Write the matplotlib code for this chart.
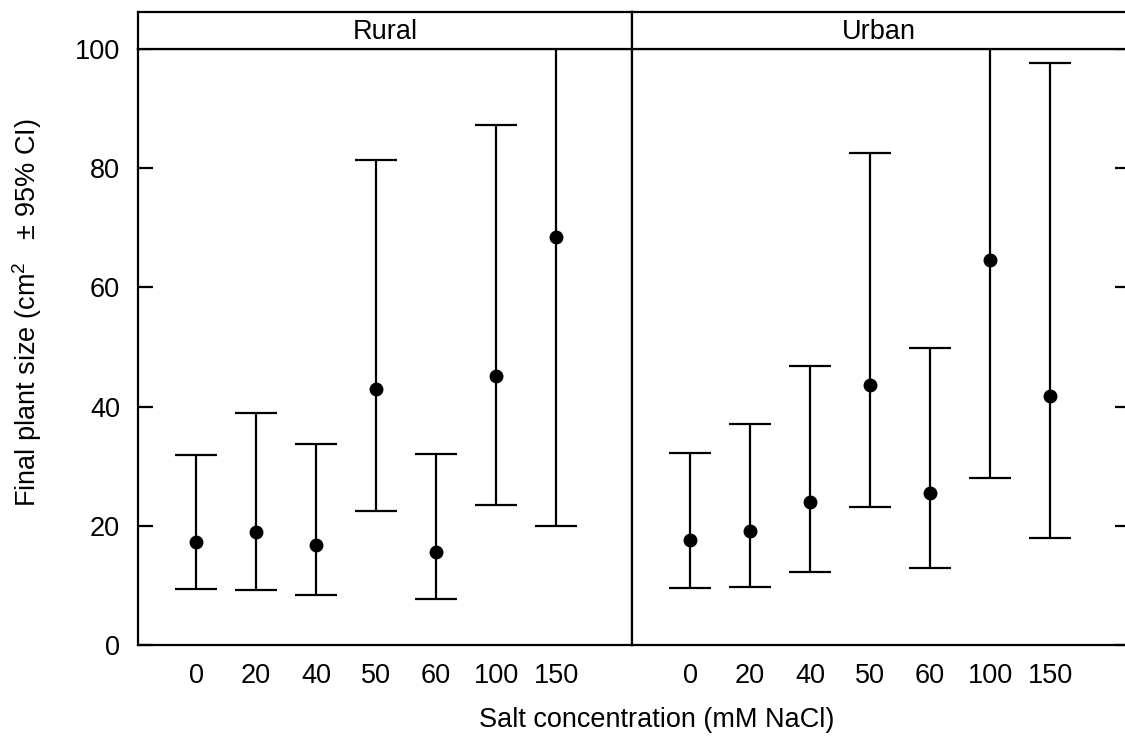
import matplotlib
matplotlib.use("Agg")
import matplotlib.pyplot as plt
import numpy as np

plt.rcParams['font.family'] = ['Liberation Sans', 'DejaVu Sans']
plt.rcParams['mathtext.fontset'] = 'custom'
plt.rcParams['mathtext.rm'] = 'Liberation Sans'
plt.rcParams['mathtext.it'] = 'Liberation Sans:italic'

salt_levels = ["0", "20", "40", "50", "60", "100", "150"]
panels = ["Rural", "Urban"]

rural_mean = [17.3, 19.0, 16.8, 42.9, 15.6, 45.2, 68.5]
rural_lower = [9.4, 9.2, 8.4, 22.5, 7.7, 23.5, 20.0]
rural_upper = [31.9, 39.0, 33.7, 81.3, 32.0, 87.2, 117.0]

urban_mean = [17.6, 19.1, 24.0, 43.6, 25.5, 64.6, 41.7]
urban_lower = [9.6, 9.7, 12.2, 23.2, 12.9, 28.0, 18.0]
urban_upper = [32.2, 37.0, 46.8, 82.5, 49.9, 101.5, 97.6]

means = {"Rural": rural_mean, "Urban": urban_mean}
lowers = {"Rural": rural_lower, "Urban": urban_lower}
uppers = {"Rural": rural_upper, "Urban": urban_upper}

W, H = 1125, 743
fig = plt.figure(figsize=(W / 100, H / 100), dpi=100)

lw = 1.6
fs = 19.5
panel_left = [138, 632]
panel_w = 494
y_bottom, y_top, frame_top = 645, 49, 12

x = np.arange(1, len(salt_levels) + 1)

for i, name in enumerate(panels):
    width = panel_w if i == 0 else panel_w + 4
    ax = fig.add_axes([panel_left[i] / W, (H - y_bottom) / H,
                       width / W, (y_bottom - y_top) / H])
    m = np.array(means[name])
    lo = np.array(lowers[name])
    up = np.array(uppers[name])
    ax.errorbar(x, m, yerr=[m - lo, up - m], fmt='o', color='black',
                ecolor='black', elinewidth=lw, capsize=15, capthick=lw,
                markersize=9, zorder=3)
    ax.set_xlim(0.033, 0.033 + width / 60)
    ax.set_ylim(0, 100)
    ax.set_xticks(x)
    ax.set_xticklabels(salt_levels, fontsize=fs)
    ax.tick_params(axis='x', length=0, pad=13)
    ax.set_yticks([0, 20, 40, 60, 80, 100])
    if i == 0:
        ax.tick_params(axis='y', direction='in', length=11, width=lw,
                       labelsize=fs, pad=13, left=True, right=False)
    else:
        ax.tick_params(axis='y', direction='in', length=11, width=lw,
                       left=False, right=True, labelleft=False,
                       labelright=False)
        ax.spines['right'].set_visible(False)
    for s in ax.spines.values():
        s.set_linewidth(lw)

    # strip with the panel name
    sax = fig.add_axes([panel_left[i] / W, (H - y_top) / H,
                        width / W, (y_top - frame_top) / H])
    sax.set_xticks([])
    sax.set_yticks([])
    for s in sax.spines.values():
        s.set_linewidth(lw)
    if i == 1:
        sax.spines['right'].set_visible(False)
    sax.text(0.5 * panel_w / width, 0.45, name, ha='center', va='center',
             fontsize=fs, transform=sax.transAxes)

fig.text(27 / W, 1 - 313 / H, "Final plant size (cm$^{2}$   \u00b1 95% CI)",
         rotation=90, ha='center', va='center', fontsize=fs)
fig.text(657 / W, 1 - 720 / H, "Salt concentration (mM NaCl)",
         ha='center', va='center', fontsize=fs)

fig.savefig("out.png", dpi=100)
